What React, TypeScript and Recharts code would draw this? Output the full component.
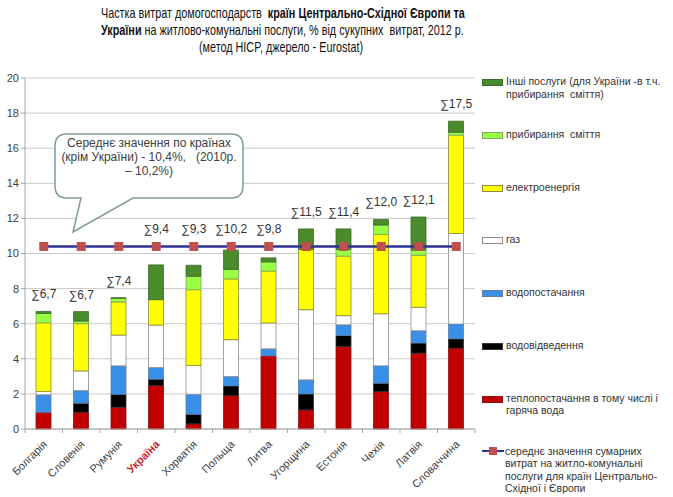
import React from "react";
import { ComposedChart, Bar, Line, XAxis, YAxis, CartesianGrid, LabelList } from "recharts";

const COUNTRIES = ["Болгарія", "Словенія", "Румунія", "Україна", "Хорватія", "Польща", "Литва", "Угорщина", "Естонія", "Чехія", "Латвія", "Словаччина"];

// частки, % від сукупних витрат (оцінено з графіка)
const HEAT = [0.95, 0.95, 1.24, 2.48, 0.29, 1.9, 4.17, 1.09, 4.7, 2.13, 4.32, 4.61];
const SEWER = [0, 0.52, 0.74, 0.36, 0.55, 0.56, 0, 0.91, 0.63, 0.48, 0.58, 0.53];
const WATER = [1.0, 0.72, 1.62, 0.66, 1.14, 0.53, 0.4, 0.8, 0.61, 0.99, 0.7, 0.84];
const GAS = [0.19, 1.12, 1.75, 2.42, 1.64, 2.1, 1.47, 4.0, 0.52, 2.97, 1.33, 5.16];
const ELEC = [3.91, 2.69, 1.89, 1.45, 4.32, 3.46, 2.96, 3.43, 3.39, 4.52, 2.97, 5.6];
const GARBAGE = [0.53, 0.15, 0.21, 0, 0.76, 0.54, 0.52, 0, 0.38, 0.53, 0.29, 0.16];
const OTHER = [0.12, 0.54, 0.03, 1.98, 0.63, 1.1, 0.23, 1.17, 1.17, 0.32, 1.89, 0.64];
const MEAN = [10.4, 10.4, 10.4, 10.4, 10.4, 10.4, 10.4, 10.4, 10.4, 10.4, 10.4, 10.4];
const TOTALS = ["6,7", "6,7", "7,4", "9,4", "9,3", "10,2", "9,8", "11,5", "11,4", "12,0", "12,1", "17,5"];
const Y_TICKS = [0, 2, 4, 6, 8, 10, 12, 14, 16, 18, 20];

const SERIES = [
  { key: "heat", values: HEAT, fill: "#C00000", stroke: "#8A1010", name: "теплопостачання в тому числі і\nгаряча вода" },
  { key: "sewer", values: SEWER, fill: "#000000", stroke: "#333333", name: "водовідведення" },
  { key: "water", values: WATER, fill: "#3A8FE8", stroke: "#5B7FA8", name: "водопостачання" },
  { key: "gas", values: GAS, fill: "#FFFFFF", stroke: "#8C8C8C", name: "газ" },
  { key: "elec", values: ELEC, fill: "#FFFF00", stroke: "#8C8C3A", name: "електроенергія" },
  { key: "garbage", values: GARBAGE, fill: "#99FF44", stroke: "#7FA860", name: "прибирання  сміття" },
  { key: "other", values: OTHER, fill: "#4A8B2C", stroke: "#3D6B28", name: "Інші послуги (для України -в т.ч.\nприбирання  сміття)" },
];
const MEAN_NAME = "середнє значення сумарних\nвитрат на житло-комунальні\nпослуги для країн Центрально-\nСхідної і Європи";

const FONT = '"Liberation Sans", Arial, sans-serif';
const BAND = 450 / COUNTRIES.length;

const data = COUNTRIES.map((c, i) => {
  const row: Record<string, number | string> = { country: c, mean: MEAN[i] };
  let total = 0;
  SERIES.forEach((s) => {
    row[s.key] = s.values[i];
    total += s.values[i];
  });
  // підпис суми піднімається над лінією середнього, якщо інакше він на неї налазить
  row.labelAt = Math.abs(total + 1 - MEAN[i]) < 0.9 ? MEAN[i] : total;
  return row;
});

const XTick = (props: any) => {
  const { x, y, payload } = props;
  const ua = payload.value === "Україна";
  return (
    <g>
      <line x1={x - BAND / 2} x2={x - BAND / 2} y1={y - 8} y2={y - 4} stroke="#A6A6A6" />
      {payload.index === COUNTRIES.length - 1 && (
        <line x1={x + BAND / 2} x2={x + BAND / 2} y1={y - 8} y2={y - 4} stroke="#A6A6A6" />
      )}
      <text
        transform={`translate(${x + 4},${y + 8}) rotate(-45)`}
        textAnchor="end"
        fontSize={11}
        fontWeight={ua ? "bold" : "normal"}
        fill={ua ? "#C62828" : "#404040"}
        fontFamily={FONT}
      >
        {payload.value}
      </text>
    </g>
  );
};

const MeanDot = (props: any) => {
  const { cx, cy } = props;
  return <rect x={cx - 4.5} y={cy - 4.5} width={9} height={9} fill="#C0504D" />;
};

const SumLabel = (props: any) => {
  const { x, y, index } = props;
  return (
    <text x={x} y={y - 13} textAnchor="middle" fontSize={12} fill="#333" fontFamily={FONT}>
      {"∑" + TOTALS[index]}
    </text>
  );
};

function LegendBox() {
  const items = [...SERIES].reverse();
  return (
    <div style={{ position: "absolute", left: 482, top: 75, width: 190, fontFamily: FONT, fontSize: 10.5, color: "#333", lineHeight: "12.5px" }}>
      {items.map((s, i) => (
        <div key={s.key} style={{ position: "absolute", left: 0, top: i * 52.8, display: "flex", alignItems: "flex-start" }}>
          <div style={{ width: 19, height: 5, marginTop: 4, marginRight: 3, background: s.fill, border: `1px solid ${s.stroke}`, flexShrink: 0 }} />
          <div style={{ whiteSpace: "pre" }}>{s.name}</div>
        </div>
      ))}
      <div style={{ position: "absolute", left: 0, top: items.length * 52.8, display: "flex", alignItems: "flex-start" }}>
        <svg width={22} height={12} style={{ flexShrink: 0, marginRight: 1 }}>
          <line x1={0} x2={22} y1={6} y2={6} stroke="#2E3192" strokeWidth={2} />
          <rect x={7} y={2} width={8} height={8} fill="#C0504D" />
        </svg>
        <div style={{ whiteSpace: "pre" }}>{MEAN_NAME}</div>
      </div>
    </div>
  );
}

function Callout() {
  return (
    <svg width={673} height={497} style={{ position: "absolute", left: 0, top: 0, pointerEvents: "none" }}>
      <path
        d="M 67 134 H 231 Q 243 134 243 146 V 186 Q 243 198 231 198 H 133 L 73 232 L 81 198 H 67 Q 55 198 55 186 V 146 Q 55 134 67 134 Z"
        fill="#FFFFFF"
        stroke="#7F9A9A"
        strokeWidth={1.5}
      />
      <g fontFamily={FONT} fontSize={12} fill="#404040" textAnchor="middle">
        <text x={149} y={147}>Середнє значення по країнах</text>
        <text x={149} y={161}>{"(крім України) - 10,4%,\u00A0\u00A0 (2010р."}</text>
        <text x={149} y={175}>– 10,2%)</text>
      </g>
    </svg>
  );
}

const TITLE_LINE: React.CSSProperties = {
  whiteSpace: "nowrap",
  textAlign: "center",
  transform: "scaleX(0.72)",
  transformOrigin: "center",
};

export default function App() {
  return (
    <div style={{ position: "absolute", left: 0, top: 0, width: 673, height: 497, background: "#fff", fontFamily: FONT }}>
      <div style={{ position: "absolute", left: 31, top: 4, width: 500, fontSize: 15, lineHeight: "17px", color: "#111" }}>
        <div style={TITLE_LINE}>
          Частка витрат домогосподарств&nbsp; <b>країн Центрально-Східної Європи та</b>
        </div>
        <div style={TITLE_LINE}>
          <b>України</b> на житлово-комунальні послуги, % від сукупних&nbsp; витрат, 2012 р.
        </div>
        <div style={TITLE_LINE}>(метод HICP, джерело - Eurostat)</div>
      </div>
      <div style={{ position: "absolute", left: 0, top: 0 }}>
        <ComposedChart width={673} height={497} data={data} margin={{ top: 78, right: 198, bottom: 8, left: 0 }}>
          <CartesianGrid vertical={false} stroke="#C9C9C9" />
          <XAxis
            dataKey="country"
            height={60}
            interval={0}
            tickLine={false}
            tickSize={0}
            tickMargin={8}
            axisLine={{ stroke: "#A6A6A6" }}
            tick={<XTick />}
          />
          <YAxis
            width={25}
            domain={[0, 20]}
            ticks={Y_TICKS}
            interval={0}
            tickSize={4}
            tickLine={{ stroke: "#A6A6A6" }}
            axisLine={{ stroke: "#A6A6A6" }}
            tick={{ fontSize: 11, fill: "#404040", fontFamily: FONT }}
          />
          {SERIES.map((s) => (
            <Bar key={s.key} dataKey={s.key} stackId="a" fill={s.fill} stroke={s.stroke} strokeWidth={0.8} barSize={15} isAnimationActive={false} />
          ))}
          <Line dataKey="labelAt" stroke="none" dot={false} activeDot={false} isAnimationActive={false}>
            <LabelList dataKey="labelAt" content={<SumLabel />} />
          </Line>
          <Line dataKey="mean" stroke="#2E3192" strokeWidth={2.5} dot={<MeanDot />} activeDot={false} isAnimationActive={false} />
        </ComposedChart>
      </div>
      <Callout />
      <LegendBox />
    </div>
  );
}
